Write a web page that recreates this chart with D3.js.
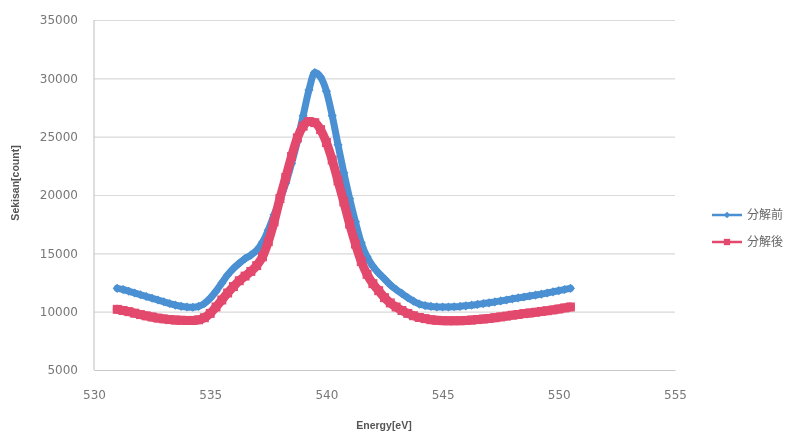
<!DOCTYPE html>
<html>
<head>
<meta charset="utf-8">
<script src="https://cdn.jsdelivr.net/npm/d3@7"></script>
<style>
  html, body { margin: 0; padding: 0; background: #fff; }
  svg { display: block; filter: blur(0.4px); }
</style>
</head>
<body>
<svg id="chart" width="794" height="437"></svg>
<script>
// ---- data ----
const energy = [
  531.00, 531.25, 531.50, 531.75, 532.00, 532.25, 532.50, 532.75,
  533.00, 533.25, 533.50, 533.75, 534.00, 534.25, 534.50, 534.75,
  535.00, 535.25, 535.50, 535.75, 536.00, 536.25, 536.50, 536.75,
  537.00, 537.25, 537.50, 537.75, 538.00, 538.25, 538.50, 538.75,
  539.00, 539.25, 539.50, 539.75, 540.00, 540.25, 540.50, 540.75,
  541.00, 541.25, 541.50, 541.75, 542.00, 542.25, 542.50, 542.75,
  543.00, 543.25, 543.50, 543.75, 544.00, 544.25, 544.50, 544.75,
  545.00, 545.25, 545.50, 545.75, 546.00, 546.25, 546.50, 546.75,
  547.00, 547.25, 547.50, 547.75, 548.00, 548.25, 548.50, 548.75,
  549.00, 549.25, 549.50, 549.75, 550.00, 550.25, 550.50
];
const before = [ // 分解前
  12000, 11900, 11750, 11600, 11450, 11300, 11150, 11000,
  10850, 10700, 10560, 10460, 10400, 10380, 10450, 10700,
  11150, 11750, 12450, 13150, 13700, 14150, 14550, 14850,
  15250, 15950, 17000, 18300, 19600, 21000, 22700, 24600,
  26800, 29000, 30500, 30100, 28900, 26800, 24300, 21900,
  19700, 17700, 15900, 14700, 13900, 13300, 12800, 12300,
  11900, 11550, 11200, 10900, 10650, 10520, 10450, 10410,
  10400, 10400, 10420, 10450, 10500, 10560, 10620, 10690,
  10760, 10840, 10920, 11000, 11100, 11180, 11260, 11340,
  11420, 11500, 11600, 11700, 11800, 11900, 12000
];
const after = [ // 分解後
  10200, 10100, 10000, 9870, 9750, 9640, 9540, 9450,
  9380, 9320, 9280, 9260, 9250, 9250, 9300, 9480,
  9850, 10400, 11000, 11600, 12150, 12650, 13050, 13450,
  13950, 14700, 16000, 17700, 19700, 21500, 23300, 24900,
  25900, 26300, 26200, 25600, 24500, 23000, 21200, 19400,
  17500, 15800, 14300, 13200, 12400, 11800, 11200, 10750,
  10400, 10100, 9850, 9650, 9500, 9400, 9310, 9260,
  9230, 9220, 9220, 9230, 9250, 9280, 9320, 9370,
  9420, 9480, 9550, 9620, 9700, 9760, 9830, 9890,
  9950, 10020, 10080, 10150, 10230, 10320, 10400
];
const seriesNames = ["分解前", "分解後"];
const xTicks = [530, 535, 540, 545, 550, 555];
const yTicks = [5000, 10000, 15000, 20000, 25000, 30000, 35000];
const xTitle = "Energy[eV]";
const yTitle = "Sekisan[count]";

// ---- layout ----
const svg = d3.select("#chart");
const L = 94, R = 675, T = 20, B = 370;
const x = d3.scaleLinear().domain([530, 555]).range([L, R]);
const y = d3.scaleLinear().domain([5000, 35000]).range([B, T]);
const colors = ["#4a90d2", "#e2496d"];

// gridlines + y labels
const yAxis = d3.axisLeft(y).tickValues(yTicks).tickSize(-(R - L)).tickPadding(16).tickFormat(d3.format("d"));
const gy = svg.append("g").attr("transform", `translate(${L},0)`).call(yAxis);
gy.select(".domain").remove();
gy.selectAll(".tick line").attr("stroke", "#d9d9d9").attr("stroke-width", 1.2);
gy.selectAll(".tick text").attr("fill", "#777").style("font-family", "DejaVu Sans").style("font-size", "12px");

// x axis
const xAxis = d3.axisBottom(x).tickValues(xTicks).tickSize(0).tickPadding(20).tickFormat(d3.format("d"));
const gx = svg.append("g").attr("transform", `translate(0,${B})`).call(xAxis);
gx.select(".domain").attr("stroke", "#c8c8c8").attr("stroke-width", 1.2);
gx.selectAll(".tick text").attr("fill", "#777").style("font-family", "DejaVu Sans").style("font-size", "12px");

// left axis line
svg.append("line").attr("x1", L).attr("x2", L).attr("y1", T).attr("y2", B)
  .attr("stroke", "#c8c8c8").attr("stroke-width", 1.2);

// axis titles
svg.append("text").attr("x", (L + R) / 2 - 0.5).attr("y", 429)
  .attr("text-anchor", "middle").attr("fill", "#555")
  .style("font-family", "Liberation Sans").style("font-weight", "bold").style("font-size", "10.5px")
  .text(xTitle);
svg.append("text").attr("transform", `translate(19,${183}) rotate(-90)`)
  .attr("text-anchor", "middle").attr("fill", "#555")
  .style("font-family", "Liberation Sans").style("font-weight", "bold").style("font-size", "10.5px")
  .text(yTitle);

// series
const data = [before, after];
const symbols = [
  { type: d3.symbolSquare, size: 42, rot: 45, width: 7 },
  { type: d3.symbolSquare, size: 80, rot: 0, width: 9 }
];
const line = d3.line().curve(d3.curveMonotoneX).x(d => x(d[0])).y(d => y(d[1]));
data.forEach((vals, si) => {
  const pts = energy.map((e, i) => [e, vals[i]]);
  const g = svg.append("g");
  g.append("path").datum(pts).attr("d", line).attr("fill", "none")
    .attr("stroke", colors[si]).attr("stroke-width", symbols[si].width)
    .attr("stroke-linejoin", "round").attr("stroke-linecap", "round");
  const sym = d3.symbol().type(symbols[si].type).size(symbols[si].size);
  g.selectAll("path.m").data(pts).enter().append("path").attr("class", "m")
    .attr("d", sym)
    .attr("transform", d => `translate(${x(d[0])},${y(d[1])}) rotate(${symbols[si].rot})`)
    .attr("fill", colors[si]);
});

// legend
const legY = [215, 242];
seriesNames.forEach((name, si) => {
  const g = svg.append("g");
  g.append("line").attr("x1", 712).attr("x2", 742).attr("y1", legY[si]).attr("y2", legY[si])
    .attr("stroke", colors[si]).attr("stroke-width", 2.5);
  g.append("path").attr("d", d3.symbol().type(symbols[si].type).size(symbols[si].size * 0.5)())
    .attr("transform", `translate(727,${legY[si]}) rotate(${symbols[si].rot})`)
    .attr("fill", colors[si]);
  g.append("text").attr("x", 747).attr("y", legY[si]).attr("dy", "0.36em")
    .attr("fill", "#666").style("font-family", "Noto Sans CJK JP").style("font-size", "12px")
    .text(name);
});
</script>
</body>
</html>
